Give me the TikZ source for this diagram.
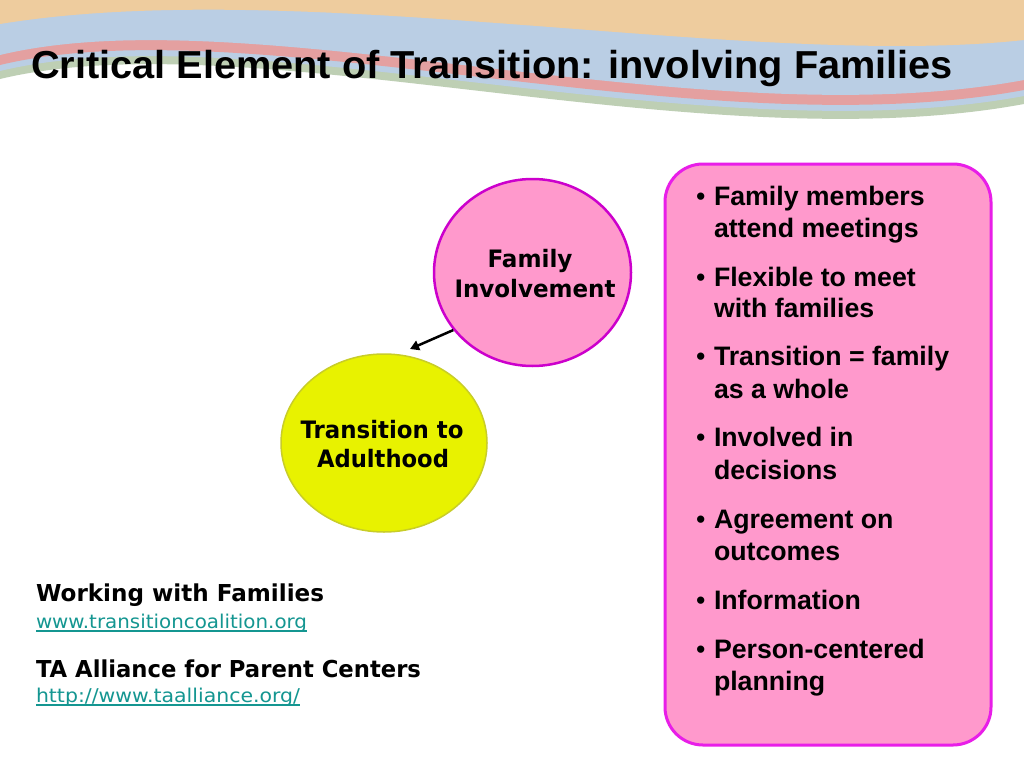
\documentclass[tikz,border=0pt]{standalone}
\usepackage{fontspec}
\usepackage{graphicx}
\usetikzlibrary{shapes.geometric,arrows.meta}
\newfontfamily\arialf{Liberation Sans}
\newfontfamily\verdf{DejaVu Sans}
\definecolor{peach}{RGB}{238,204,158}
\definecolor{bannerblue}{RGB}{186,206,228}
\definecolor{stripepink}{RGB}{228,160,160}
\definecolor{stripegreen}{RGB}{190,207,180}
\definecolor{pinkfill}{RGB}{255,153,204}
\definecolor{boxborder}{RGB}{232,30,232}
\definecolor{circborder}{RGB}{204,0,204}
\definecolor{yellowfill}{RGB}{232,242,0}
\definecolor{yellowborder}{RGB}{200,205,40}
\definecolor{linkcol}{RGB}{20,150,145}
\newcommand\fitw[2]{\resizebox{#1pt}{\height}{#2}}
\newcommand\bulfont{\arialf\bfseries\fontsize{26.7}{26.7}\selectfont}
\newcommand\circfont{\verdf\bfseries\fontsize{24}{24}\selectfont}
\newcommand\labfont{\verdf\bfseries\fontsize{23.3}{23.3}\selectfont}
\newcommand\linkfont{\verdf\fontsize{19}{19}\selectfont}
\begin{document}
\begin{tikzpicture}[x=1pt,y=-1pt,
  txt/.style={inner sep=0pt, outer sep=0pt},
  bline/.style={txt, anchor=base west, font=\bulfont},
  bdot/.style={txt, anchor=base west, font=\arialf\fontsize{26.7}{26.7}\selectfont},
  ctext/.style={txt, anchor=base},
  ltext/.style={txt, anchor=base west},
  uline/.style={linkcol, line width=1.3pt},
  arrowline/.style={line width=2.5pt, -{Triangle[length=9pt,width=10pt]}}
]
\useasboundingbox (0,0) rectangle (1024,768);
\fill[white] (0,0) rectangle (1024,768);
% banner
\fill[stripegreen] (0,-5) -- (0,79) .. controls (250,19) and (700,164) .. (1024,104) -- (1024,-5) -- cycle;
\fill[bannerblue] (0,-5) -- (0,71) .. controls (250,11) and (700,156) .. (1024,96) -- (1024,-5) -- cycle;
\fill[stripepink] (0,-5) -- (0,65) .. controls (250,5) and (700,150) .. (1024,90) -- (1024,-5) -- cycle;
\fill[bannerblue] (0,-5) -- (0,55) .. controls (250,-5) and (700,140) .. (1024,80) -- (1024,-5) -- cycle;
\fill[peach] (0,-5) -- (0,24) .. controls (300,-25) and (750,70) .. (1024,40) -- (1024,-5) -- cycle;
% title
\node[ltext] (title) at (31,78) {\fitw{922}{\arialf\bfseries\fontsize{39}{39}\selectfont Critical Element of Transition: involving Families}};
% right box
\node[draw=boxborder, fill=pinkfill, line width=3pt, rounded corners=38pt,
      minimum width=326pt, minimum height=581pt, inner sep=0pt] (box) at (828,454.5) {};
% circles
\node[ellipse, draw=circborder, fill=pinkfill, line width=2.5pt,
      minimum width=197pt, minimum height=187pt, inner sep=0pt] (fam) at (532.5,272.5) {};
\node[ellipse, draw=yellowborder, fill=yellowfill, line width=1.5pt,
      minimum width=206pt, minimum height=178pt, inner sep=0pt] (trans) at (384,443) {};
\node[ctext] (famt1) at (530,267) {\fitw{85}{\circfont Family}};
\node[ctext] (famt2) at (535,297) {\fitw{161}{\circfont Involvement}};
\node[ctext] (trt1) at (382,438) {\fitw{163}{\circfont Transition to}};
\node[ctext] (trt2) at (383,467) {\fitw{132}{\circfont Adulthood}};
% arrow
\coordinate (tip) at (410,349);
\draw[arrowline] (fam.216.5) -- (tip);
% bullets
\node[bdot] (d1) at (696,205) {•};
\node[bline] (b1a) at (714,205) {Family members};
\node[bline] (b1b) at (714,237) {attend meetings};
\node[bdot] (d2) at (696,286) {•};
\node[bline] (b2a) at (714,286) {Flexible to meet};
\node[bline] (b2b) at (714,317) {with families};
\node[bdot] (d3) at (696,365) {•};
\node[bline] (b3a) at (714,365) {Transition = family};
\node[bline] (b3b) at (714,398) {as a whole};
\node[bdot] (d4) at (696,446) {•};
\node[bline] (b4a) at (714,446) {Involved in};
\node[bline] (b4b) at (714,479) {decisions};
\node[bdot] (d5) at (696,528) {•};
\node[bline] (b5a) at (714,528) {Agreement on};
\node[bline] (b5b) at (714,560) {outcomes};
\node[bdot] (d6) at (696,609) {•};
\node[bline] (b6a) at (714,609) {Information};
\node[bdot] (d7) at (696,658) {•};
\node[bline] (b7a) at (714,658) {Person-centered};
\node[bline] (b7b) at (714,690) {planning};
% left labels
\node[ltext] (lab1) at (36,601) {\fitw{288}{\labfont Working with Families}};
\node[ltext, text=linkcol] (lnk1) at (36,628) {\fitw{271}{\linkfont www.transitioncoalition.org}};
\draw[uline] ([yshift=-3pt]lnk1.base west) -- ([yshift=-3pt]lnk1.base east);
\node[ltext] (lab2) at (36,677) {\fitw{385}{\labfont TA Alliance for Parent Centers}};
\node[ltext, text=linkcol] (lnk2) at (36,702) {\fitw{264}{\linkfont http://www.taalliance.org/}};
\draw[uline] ([yshift=-3pt]lnk2.base west) -- ([yshift=-3pt]lnk2.base east);
\end{tikzpicture}
\end{document}
